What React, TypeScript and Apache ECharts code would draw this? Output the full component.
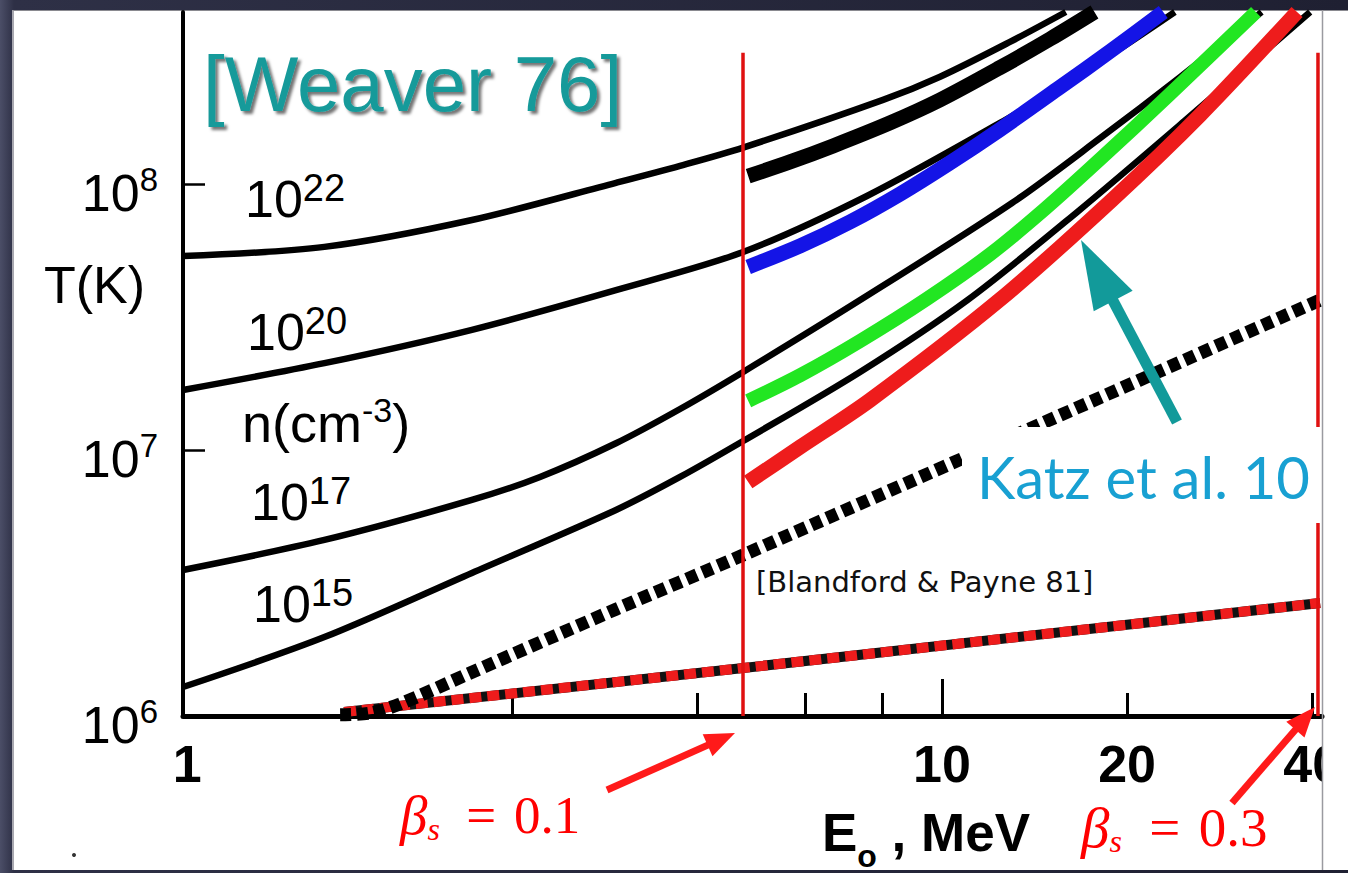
import React, { useEffect, useRef } from "react";
import * as echarts from "echarts";

// ---------- axes ----------
const X_MIN = 0.583;
const X_MAX = 41.5;
const Y_MIN = 1e6;
const Y_MAX = 4.43e8;

const X_TICK_VALUES = [2, 4, 6, 8, 20, 40];
const X_LONG_TICK_VALUES = [10];
const X_LABEL_VALUES = [0.592, 10, 20, 40];
const X_LABEL_TEXTS = ["1", "10", "20", "40"];
const Y_TICK_VALUES = [1e7, 1e8];
const Y_LABEL_VALUES = [1e6, 1e7, 1e8];
const Y_LABEL_EXPONENTS = ["6", "7", "8"];

// ---------- Weaver 76 curves, T(K) vs E0 (MeV) ----------
const WEAVER_N22 = [[0.583, 5.36e7], [0.99, 5.8e7], [1.72, 7.32e7], [2.95, 1.01e8], [3.75, 1.17e8], [4.75, 1.37e8], [8.02, 2.07e8], [9.93, 2.53e8], [12.9, 3.42e8], [15.9, 4.43e8]];
const WEAVER_N20 = [[0.583, 1.68e7], [0.99, 2.12e7], [1.72, 2.83e7], [2.95, 3.99e7], [4.75, 5.55e7], [7.55, 9.01e7], [12.43, 1.696e8], [15.55, 2.315e8], [19.47, 3.22e8], [23.92, 4.43e8]];
const WEAVER_N17 = [[0.583, 3.54e6], [0.99, 4.59e6], [1.72, 6.49e6], [2.22, 7.92e6], [2.95, 1.06e7], [3.75, 1.426e7], [4.75, 1.965e7], [7.36, 3.66e7], [13.0, 8.48e7], [18.1, 1.489e8], [24.4, 2.525e8], [33.1, 4.43e8]];
const WEAVER_N15 = [[0.583, 1.285e6], [0.99, 1.98e6], [1.72, 3.45e6], [2.95, 5.95e6], [3.75, 7.92e6], [4.75, 1.081e7], [7.36, 1.965e7], [11.0, 3.66e7], [16.6, 7.85e7], [24.9, 1.74e8], [39.7, 4.43e8]];

// ---------- Katz et al. 10 curves ----------
const KATZ_BLACK = [[4.84, 1.07e8], [5.66, 1.21e8], [6.65, 1.39e8], [8.23, 1.696e8], [9.93, 2.07e8], [12.4, 2.73e8], [15.0, 3.51e8], [17.7, 4.43e8]];
const KATZ_BLUE = [[4.84, 4.875e7], [5.88, 5.85e7], [7.09, 7.2e7], [8.55, 9.17e7], [10.3, 1.2e8], [12.4, 1.596e8], [15.5, 2.296e8], [18.8, 3.16e8], [22.9, 4.43e8]];
const KATZ_GREEN = [[4.84, 1.53e7], [5.88, 1.91e7], [7.36, 2.57e7], [9.45, 3.7e7], [12.0, 5.46e7], [14.7, 8.05e7], [18.1, 1.242e8], [23.5, 2.18e8], [32.4, 4.43e8]];
const KATZ_RED = [[4.84, 7.58e6], [5.88, 1.026e7], [7.64, 1.54e7], [12.4, 3.66e7], [18.9, 8.71e7], [26.3, 1.817e8], [37.8, 4.43e8]];

// ---------- Blandford & Payne 81 ----------
const BP_BLACK_DOTTED = [[1.05, 1.01e6], [1.175, 1.026e6], [1.314, 1.11e6], [1.72, 1.46e6], [2.95, 2.52e6], [4.75, 4.03e6], [12.4, 1.07e7], [41.2, 3.66e7]];
const BP_RED_DOTTED = [[1.066, 1.035e6], [4.75, 1.515e6], [41.2, 2.66e6]];

// ---------- shock velocity markers ----------
const BETA_01_E = 4.747;
const BETA_03_E = 40.88;
const BETA_LINE_TOP = 3.11e8;

const SANS = "'Liberation Sans', Arial, Helvetica, sans-serif";
const SERIF = "'Liberation Serif', 'Times New Roman', serif";
const VERDANA = "'DejaVu Sans', Verdana, sans-serif";
const GILL = "Lato, 'Open Sans', sans-serif";

function matchIndex(list: number[], v: number) {
  return list.findIndex((u) => Math.abs(Math.log10(u) - Math.log10(v)) < 0.01);
}

function line(data: number[][], color: string, width: number, extra: any = {}) {
  return {
    type: "line",
    data,
    showSymbol: false,
    symbol: "none",
    silent: true,
    smooth: 0.3,
    lineStyle: { color, width, cap: "butt", join: "round" },
    emphasis: { disabled: true },
    ...extra,
  };
}

function arrow(x1: number, y1: number, tx: number, ty: number, headLen: number, headHalf: number, width: number, color: string) {
  const dx = tx - x1;
  const dy = ty - y1;
  const len = Math.hypot(dx, dy);
  const ux = dx / len;
  const uy = dy / len;
  const bx = tx - ux * headLen;
  const by = ty - uy * headLen;
  const px = -uy;
  const py = ux;
  return [
    { type: "line", z: 100, shape: { x1, y1, x2: bx + ux * 2, y2: by + uy * 2 }, style: { stroke: color, lineWidth: width } },
    {
      type: "polygon",
      z: 100,
      shape: { points: [[tx, ty], [bx + px * headHalf, by + py * headHalf], [bx - px * headHalf, by - py * headHalf]] },
      style: { fill: color },
    },
  ];
}

function powerLabel(x: number, y: number, base: string, exp: string) {
  return {
    type: "text",
    z: 100,
    x,
    y,
    style: {
      text: `{b|${base}}{s|${exp}}`,
      align: "left",
      verticalAlign: "middle",
      textAlign: "left",
      textVerticalAlign: "middle",
      rich: {
        b: { fontSize: 52, fontFamily: SANS, fill: "#000", lineHeight: 60 },
        s: { fontSize: 38, fontFamily: SANS, fill: "#000", lineHeight: 29, verticalAlign: "top" },
      },
    },
  };
}

export default function App() {
  const ref = useRef<HTMLDivElement>(null);

  useEffect(() => {
    if (!ref.current) return;
    const chart = echarts.init(ref.current, null, { renderer: "svg" });

    const betaRich = (size: number) => ({
      b: { fontSize: size + 2, fontFamily: SERIF, fontStyle: "italic", fill: "#ff0000", color: "#ff0000", lineHeight: 60 },
      s: { fontSize: 32, fontFamily: SERIF, fontStyle: "italic", fill: "#ff0000", color: "#ff0000", lineHeight: 19, verticalAlign: "bottom" },
      t: { fontSize: size, fontFamily: SERIF, fill: "#ff0000", color: "#ff0000", lineHeight: 60 },
    });

    const option: any = {
      animation: false,
      backgroundColor: "transparent",
      grid: { left: 183, top: 12, width: 1139, height: 704, containLabel: false, outerBoundsMode: "none", show: false },
      xAxis: [
        {
          type: "log",
          logBase: 10,
          min: X_MIN,
          max: X_MAX,
          position: "bottom",
          axisLine: { show: true, onZero: false, lineStyle: { color: "#000", width: 5 } },
          axisTick: { show: true, inside: true, length: 23, customValues: X_TICK_VALUES, lineStyle: { color: "#000", width: 3 } },
          axisLabel: {
            show: true,
            customValues: X_LABEL_VALUES,
            formatter: (v: number) => {
              const i = matchIndex(X_LABEL_VALUES, v);
              return i < 0 ? "" : X_LABEL_TEXTS[i];
            },
            color: "#000",
            fontSize: 52,
            fontWeight: "bold",
            fontFamily: SANS,
            margin: 22,
          },
          splitLine: { show: false },
          minorTick: { show: false },
          minorSplitLine: { show: false },
        },
        {
          type: "log",
          logBase: 10,
          min: X_MIN,
          max: X_MAX,
          position: "bottom",
          axisLine: { show: false },
          axisTick: { show: true, inside: true, length: 37, customValues: X_LONG_TICK_VALUES, lineStyle: { color: "#000", width: 3 } },
          axisLabel: { show: false },
          splitLine: { show: false },
        },
      ],
      yAxis: {
        type: "log",
        logBase: 10,
        min: Y_MIN,
        max: Y_MAX,
        axisLine: { show: true, onZero: false, lineStyle: { color: "#000", width: 4 } },
        axisTick: { show: true, inside: true, length: 22, customValues: Y_TICK_VALUES, lineStyle: { color: "#000", width: 2.5 } },
        axisLabel: {
          show: true,
          customValues: Y_LABEL_VALUES,
          margin: 25,
          padding: [18, 0, 0, 0],
          formatter: (v: number) => {
            const i = matchIndex(Y_LABEL_VALUES, v);
            return i < 0 ? "" : `{b|10}{s|${Y_LABEL_EXPONENTS[i]}}`;
          },
          rich: {
            b: { fontSize: 52, fontFamily: SANS, color: "#000", lineHeight: 60 },
            s: { fontSize: 33, fontFamily: SANS, color: "#000", lineHeight: 29, verticalAlign: "top" },
          },
        },
        splitLine: { show: false },
        minorTick: { show: false },
      },
      series: [
        line(WEAVER_N22, "#000", 6.5),
        line(WEAVER_N20, "#000", 6.5),
        line(WEAVER_N17, "#000", 6.5),
        line(WEAVER_N15, "#000", 6.5),
        line(BP_RED_DOTTED, "#111", 10, { smooth: false }),
        line(BP_RED_DOTTED, "#ee1c1c", 10, { smooth: false, lineStyle: { color: "#ee1c1c", width: 10, type: [12, 6], cap: "butt" } }),
        line(BP_BLACK_DOTTED, "#000", 13, { smooth: 0.3, lineStyle: { color: "#000", width: 13, type: [11, 6], cap: "butt" } }),
        line(KATZ_BLACK, "#000", 15),
        line(KATZ_BLUE, "#1414e6", 15),
        line(KATZ_GREEN, "#22e622", 14),
        line(KATZ_RED, "#ee1c1c", 15),
        line([[BETA_01_E, Y_MIN], [BETA_01_E, BETA_LINE_TOP]], "#e01010", 3.5, { smooth: false, z: 3 }),
        line([[BETA_03_E, Y_MIN], [BETA_03_E, BETA_LINE_TOP]], "#e01010", 3.5, { smooth: false, z: 3 }),
      ],
      graphic: [
        // Katz box
        { type: "rect", z: 100, shape: { x: 962, y: 427, width: 360, height: 96 }, style: { fill: "#fff" } },
        {
          type: "text", z: 101, x: 977, y: 476,
          style: { text: "Katz et al. 10", fontSize: 58, fontFamily: GILL, fill: "#18a0d2", align: "left", verticalAlign: "middle", textAlign: "left", textVerticalAlign: "middle" },
        },
        // clip for the 40 label and right border
        { type: "rect", z: 100, shape: { x: 1323, y: 725, width: 25, height: 80 }, style: { fill: "#fff" } },
        { type: "line", z: 102, shape: { x1: 1322.5, y1: 10, x2: 1322.5, y2: 870 }, style: { stroke: "#9a9aa0", lineWidth: 1.5 } },
        // Weaver title
        {
          type: "text", z: 100, x: 203, y: 84,
          style: {
            text: "[Weaver 76]", fontSize: 78, fontFamily: SANS, fill: "#169a9a",
            align: "left", verticalAlign: "middle", textAlign: "left", textVerticalAlign: "middle",
            textShadowColor: "rgba(0,0,0,0.55)", textShadowOffsetX: 3, textShadowOffsetY: 3, textShadowBlur: 3,
          },
        },
        // axis names
        {
          type: "text", z: 100, x: 44, y: 285,
          style: { text: "T(K)", fontSize: 52, fontFamily: SANS, fill: "#000", align: "left", verticalAlign: "middle", textAlign: "left", textVerticalAlign: "middle" },
        },
        {
          type: "text", z: 100, x: 822, y: 832,
          style: {
            text: "{a|E}{o|o}{a| , MeV}", align: "left", verticalAlign: "middle", textAlign: "left", textVerticalAlign: "middle",
            rich: {
              a: { fontSize: 53, fontFamily: SANS, fontWeight: "bold", fill: "#000", lineHeight: 80 },
              o: { fontSize: 32, fontFamily: SANS, fontWeight: "bold", fill: "#000", lineHeight: 11, verticalAlign: "bottom" },
            },
          },
        },
        // density labels
        powerLabel(245, 199, "10", "22"),
        powerLabel(247, 332, "10", "20"),
        powerLabel(251, 502, "10", "17"),
        powerLabel(253, 604, "10", "15"),
        {
          type: "text", z: 100, x: 242, y: 423,
          style: {
            text: "{b|n(cm}{s|-3}{b|)}", align: "left", verticalAlign: "middle", textAlign: "left", textVerticalAlign: "middle",
            rich: {
              b: { fontSize: 54, fontFamily: SANS, fill: "#000", lineHeight: 60 },
              s: { fontSize: 34, fontFamily: SANS, fill: "#000", lineHeight: 34, verticalAlign: "top" },
            },
          },
        },
        {
          type: "text", z: 100, x: 756, y: 582,
          style: { text: "[Blandford & Payne 81]", fontSize: 29, fontFamily: VERDANA, fill: "#111", align: "left", verticalAlign: "middle", textAlign: "left", textVerticalAlign: "middle" },
        },
        // beta labels
        {
          type: "text", z: 100, x: 400, y: 815,
          style: { text: "{b|β}{s|s}{t|\u2002=\u20040.1}", align: "left", verticalAlign: "middle", textAlign: "left", textVerticalAlign: "middle", rich: betaRich(53) },
        },
        {
          type: "text", z: 100, x: 1081, y: 827,
          style: { text: "{b|β}{s|s}{t|\u2002=\u20040.3}", align: "left", verticalAlign: "middle", textAlign: "left", textVerticalAlign: "middle", rich: betaRich(55) },
        },
        // arrows
        ...arrow(607, 790, 735, 733, 30, 12, 7, "#ff1a1a"),
        ...arrow(1232, 803, 1315, 707, 30, 12, 7, "#ff1a1a"),
        ...arrow(1177, 422, 1081, 240, 69, 22, 11, "#129a9a"),
        // stray dot of the scan
        { type: "circle", z: 100, shape: { cx: 74, cy: 855, r: 2 }, style: { fill: "#333" } },
      ],
    };

    chart.setOption(option);
    return () => chart.dispose();
  }, []);

  return (
    <div
      style={{
        position: "fixed",
        left: 0,
        top: 0,
        width: 1348,
        height: 873,
        overflow: "hidden",
        background: "linear-gradient(90deg, #4b4e67 0px, #2e3046 14px, #1f2032 100%)",
      }}
    >
      <div
        style={{
          position: "absolute",
          left: 12,
          top: 10,
          width: 1336,
          height: 860,
          background: "#fff",
          borderLeft: "2px solid #a8a8b0",
          borderTop: "1px solid #8a8a90",
          boxSizing: "border-box",
        }}
      />
      <div ref={ref} style={{ position: "absolute", left: 0, top: 0, width: 1348, height: 873 }} />
    </div>
  );
}
